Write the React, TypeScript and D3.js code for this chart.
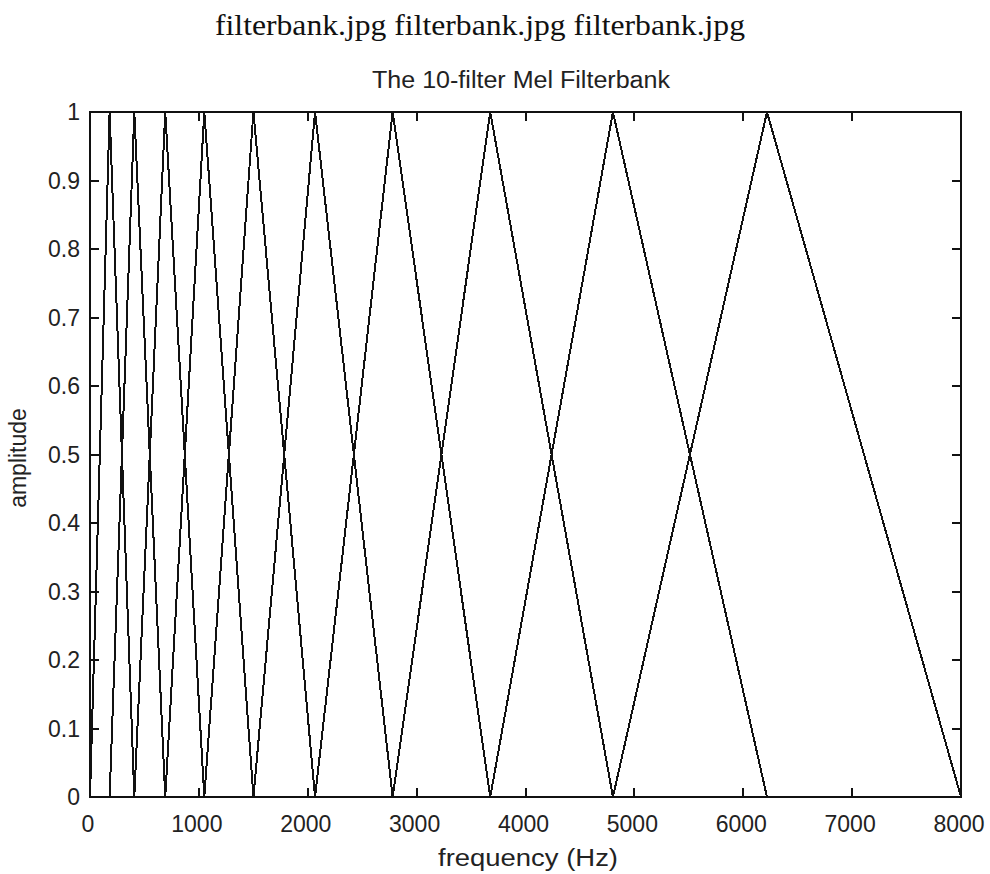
import React from "react";
import * as d3 from "d3";

// Filter edge frequencies (Hz): filter i spans edges[i]..edges[i+2], peak at edges[i+1]
const edgeFrequencies: number[] = [0, 180, 407, 691, 1050, 1501, 2067, 2780, 3676, 4803, 6218, 8000];
const peakAmplitudes: number[] = [1, 1, 1, 1, 1, 1, 1, 1, 1, 1];
const xTicks: number[] = [0, 1000, 2000, 3000, 4000, 5000, 6000, 7000, 8000];
const yTicks: number[] = [0, 0.1, 0.2, 0.3, 0.4, 0.5, 0.6, 0.7, 0.8, 0.9, 1];
const yTickLabels: string[] = ["0", "0.1", "0.2", "0.3", "0.4", "0.5", "0.6", "0.7", "0.8", "0.9", "1"];

const W = 990;
const H = 874;
const left = 90;
const right = 961;
const top = 112;
const bottom = 797;
const tickLen = 9;
const sans = "'Liberation Sans', Arial, Helvetica, sans-serif";

export default function App() {
  const x = d3.scaleLinear().domain([0, 8000]).range([left, right]);
  const y = d3.scaleLinear().domain([0, 1]).range([bottom, top]);
  const line = d3
    .line<[number, number]>()
    .x((d) => x(d[0]))
    .y((d) => y(d[1]));

  const filters: [number, number][][] = peakAmplitudes.map((a, i) => [
    [edgeFrequencies[i], 0],
    [edgeFrequencies[i + 1], a],
    [edgeFrequencies[i + 2], 0],
  ]);

  return (
    <svg
      width={W}
      height={H}
      style={{ position: "absolute", left: 0, top: 0, background: "#fff" }}
    >
      <rect x={0} y={0} width={W} height={H} fill="#fff" />
      <text
        x={480}
        y={35}
        textAnchor="middle"
        fontFamily="'Liberation Serif', 'DejaVu Serif', serif"
        fontSize={30}
        textLength={530}
        lengthAdjust="spacingAndGlyphs"
        fill="#111"
      >
        filterbank.jpg filterbank.jpg filterbank.jpg
      </text>
      <text
        x={521}
        y={88}
        textAnchor="middle"
        fontFamily={sans}
        fontSize={23}
        textLength={298}
        lengthAdjust="spacingAndGlyphs"
        fill="#222"
      >
        The 10-filter Mel Filterbank
      </text>

      {/* filters */}
      <g fill="none" stroke="#111" strokeWidth={2} shapeRendering="crispEdges">
        {filters.map((f, i) => (
          <path key={i} d={line(f) || ""} />
        ))}
      </g>

      {/* box */}
      <rect
        x={left}
        y={top}
        width={right - left}
        height={bottom - top}
        fill="none"
        stroke="#111"
        strokeWidth={2}
        shapeRendering="crispEdges"
      />

      {/* ticks */}
      <g stroke="#111" strokeWidth={2} shapeRendering="crispEdges">
        {xTicks.map((t) => (
          <g key={t}>
            <line x1={x(t)} x2={x(t)} y1={bottom} y2={bottom - tickLen} />
            <line x1={x(t)} x2={x(t)} y1={top} y2={top + tickLen} />
          </g>
        ))}
        {yTicks.map((t) => (
          <g key={t}>
            <line x1={left} x2={left + tickLen} y1={y(t)} y2={y(t)} />
            <line x1={right} x2={right - tickLen} y1={y(t)} y2={y(t)} />
          </g>
        ))}
      </g>

      <g fontFamily={sans} fontSize={23} fill="#222">
        {xTicks.map((t) => (
          <text key={t} x={x(t) - 2} y={832} textAnchor="middle">
            {String(t)}
          </text>
        ))}
        {yTicks.map((t, i) => (
          <text key={t} x={80} y={y(t)} dy="0.36em" textAnchor="end">
            {yTickLabels[i]}
          </text>
        ))}
      </g>

      <text
        x={528}
        y={866}
        textAnchor="middle"
        fontFamily={sans}
        fontSize={23}
        textLength={180}
        lengthAdjust="spacingAndGlyphs"
        fill="#222"
      >
        frequency (Hz)
      </text>
      <text
        transform={`translate(26,458) rotate(-90)`}
        textAnchor="middle"
        fontFamily={sans}
        fontSize={23}
        fill="#222"
      >
        amplitude
      </text>
    </svg>
  );
}
